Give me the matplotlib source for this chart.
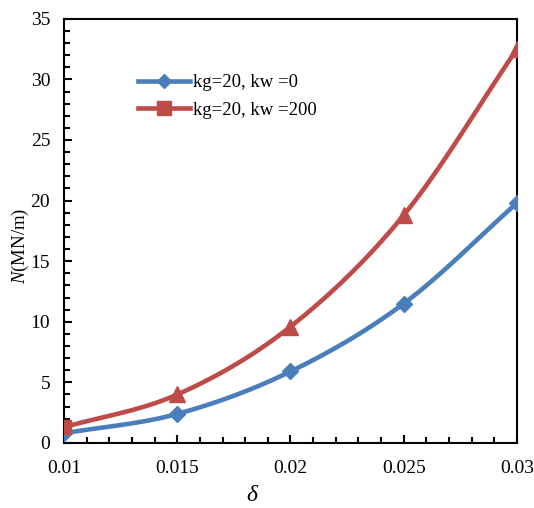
import numpy as np
import matplotlib
matplotlib.use('Agg')
from matplotlib import pyplot as plt
from matplotlib.ticker import MultipleLocator

delta = [0.01, 0.015, 0.02, 0.025, 0.03]
n_kw0 = [0.8, 2.4, 5.9, 11.5, 19.8]
n_kw200 = [1.3, 4.0, 9.6, 18.8, 32.5]
labels = ['kg=20, kw =0', 'kg=20, kw =200']
xtick_labels = ['0.01', '0.015', '0.02', '0.025', '0.03']

plt.rcParams['font.family'] = ['Liberation Serif', 'DejaVu Serif']
plt.rcParams['mathtext.fontset'] = 'custom'
plt.rcParams['mathtext.it'] = 'Liberation Serif:italic'
plt.rcParams['mathtext.rm'] = 'Liberation Serif'

blue = '#4a7ebb'
red = '#be4b48'


def smooth(x, y, n=30):
    # Catmull-Rom style curve like Excel's smoothed line
    x = np.asarray(x, float)
    y = np.asarray(y, float)
    px = np.concatenate([[2 * x[0] - x[1]], x, [2 * x[-1] - x[-2]]])
    py = np.concatenate([[2 * y[0] - y[1]], y, [2 * y[-1] - y[-2]]])
    xs, ys = [], []
    t = np.linspace(0, 1, n)
    for i in range(1, len(px) - 2):
        for p, out in ((px, xs), (py, ys)):
            p0, p1, p2, p3 = p[i - 1], p[i], p[i + 1], p[i + 2]
            out.extend(0.5 * (2 * p1 + (-p0 + p2) * t
                              + (2 * p0 - 5 * p1 + 4 * p2 - p3) * t ** 2
                              + (-p0 + 3 * p1 - 3 * p2 + p3) * t ** 3))
    return xs, ys


fig = plt.figure(figsize=(5.34, 5.08), dpi=100)
ax = fig.add_axes([0.12, 0.128, 0.848, 0.835])

sx, sy = smooth(delta, n_kw0)
ax.plot(sx, sy, color=blue, lw=3.3, zorder=2)
ax.plot(delta, n_kw0, ls='none', marker='D', ms=8.5, color=blue, zorder=3)

sx, sy = smooth(delta, n_kw200)
ax.plot(sx, sy, color=red, lw=3.3, zorder=2)
ax.plot(delta[:1], n_kw200[:1], ls='none', marker='s', ms=10, color=red, zorder=3)
ax.plot(delta[1:], n_kw200[1:], ls='none', marker='^', ms=11.5, color=red, zorder=3)

# legend proxies
ax.plot([], [], color=blue, lw=3.3, marker='D', ms=7.5, label=labels[0])
ax.plot([], [], color=red, lw=3.3, marker='s', ms=9.5, label=labels[1])
ax.legend(loc='upper left', bbox_to_anchor=(0.163, 0.87), frameon=False,
          fontsize=13.5, handlelength=2.8, handletextpad=0.15, labelspacing=0.55,
          borderaxespad=0, borderpad=0)

ax.set_xlim(0.01, 0.03)
ax.set_ylim(0, 35)
ax.yaxis.set_major_locator(MultipleLocator(5))
ax.yaxis.set_minor_locator(MultipleLocator(1))
ax.xaxis.set_minor_locator(MultipleLocator(0.001))
ax.set_xticks(delta)
ax.set_xticklabels(xtick_labels)
ax.tick_params(which='both', direction='in', labelsize=14, width=1.5)
ax.tick_params(which='major', length=6)
ax.tick_params(axis='x', which='major', pad=12)
ax.tick_params(axis='y', which='major', pad=10)
ax.tick_params(which='minor', length=4)
for s in ax.spines.values():
    s.set_linewidth(1.5)

ax.set_ylabel('$N$(MN/m)', fontsize=13.5)
ax.yaxis.set_label_coords(-0.074, 0.465)
ax.set_xlabel(r'$\delta$', fontsize=17)
ax.xaxis.set_label_coords(0.417, -0.10)

fig.savefig('out.png', dpi=100)
